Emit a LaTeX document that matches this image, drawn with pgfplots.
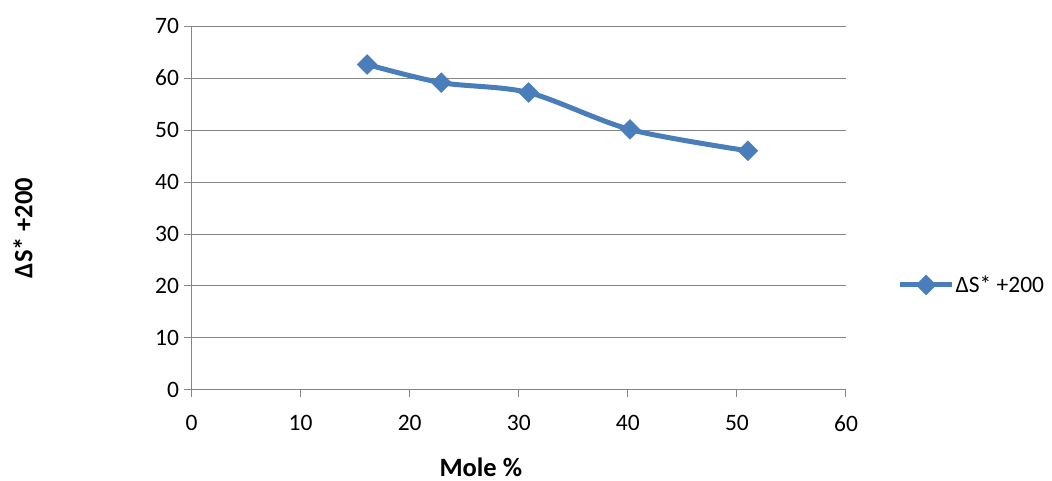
\documentclass[border=0pt]{standalone}
\usepackage{fontspec}
\setmainfont{Carlito}
\usepackage{pgfplots}
\pgfplotsset{compat=1.18}
\definecolor{serblue}{HTML}{4A7EBB}
\definecolor{gridgray}{HTML}{868686}
\begin{document}
\begin{tikzpicture}
\useasboundingbox (-191.5pt,-91pt) rectangle (860.5pt,390pt);
\begin{axis}[
  at={(0pt,0pt)}, anchor=south west,
  scale only axis, width=654.5pt, height=364pt,
  xmin=0, xmax=60, ymin=0, ymax=70,
  xtick={0,10,...,60}, ytick={0,10,...,70},
  axis x line*=bottom, axis y line*=left,
  axis line style={gridgray, line width=1pt, -},
  ymajorgrids, major grid style={gridgray, line width=1pt},
  tick align=outside, major tick length=7pt,
  tick style={gridgray, line width=1pt},
  /pgf/number format/assume math mode=true,
  ticklabel style={font=\fontsize{23.5}{27}\selectfont, text=black},
  xticklabel style={yshift=-15pt},
  yticklabel style={xshift=-2pt},
  xlabel={\bfseries Mole \%},
  ylabel={\bfseries ΔS* +200},
  label style={font=\fontsize{26.5}{30}\selectfont},
  xlabel style={at={(axis description cs:0.442,-0.212)}, anchor=center},
  ylabel style={at={(axis description cs:-0.2573,0.445)}, anchor=center},
  legend style={draw=none, fill=none, inner sep=0pt, anchor=west,
    at={(axis description cs:1.0786,0.2885)},
    font=\fontsize{23.5}{27}\selectfont,
    nodes={inner xsep=1pt}},
  legend image code/.code={\draw[#1, mark repeat=2, mark phase=2] plot coordinates {(0pt,0pt) (26pt,0pt) (52pt,0pt)};},
]
\addplot[serblue, line width=5pt, smooth, tension=0.5, mark=square*,
  mark size=7pt, mark options={rotate=45, line width=0.5pt, fill=serblue}]
  coordinates {(16.1,62.6) (22.9,59.1) (30.9,57.2) (40.2,50.1) (51.0,46.0)};
\addlegendentry{ΔS* +200}
\end{axis}
\end{tikzpicture}
\end{document}
